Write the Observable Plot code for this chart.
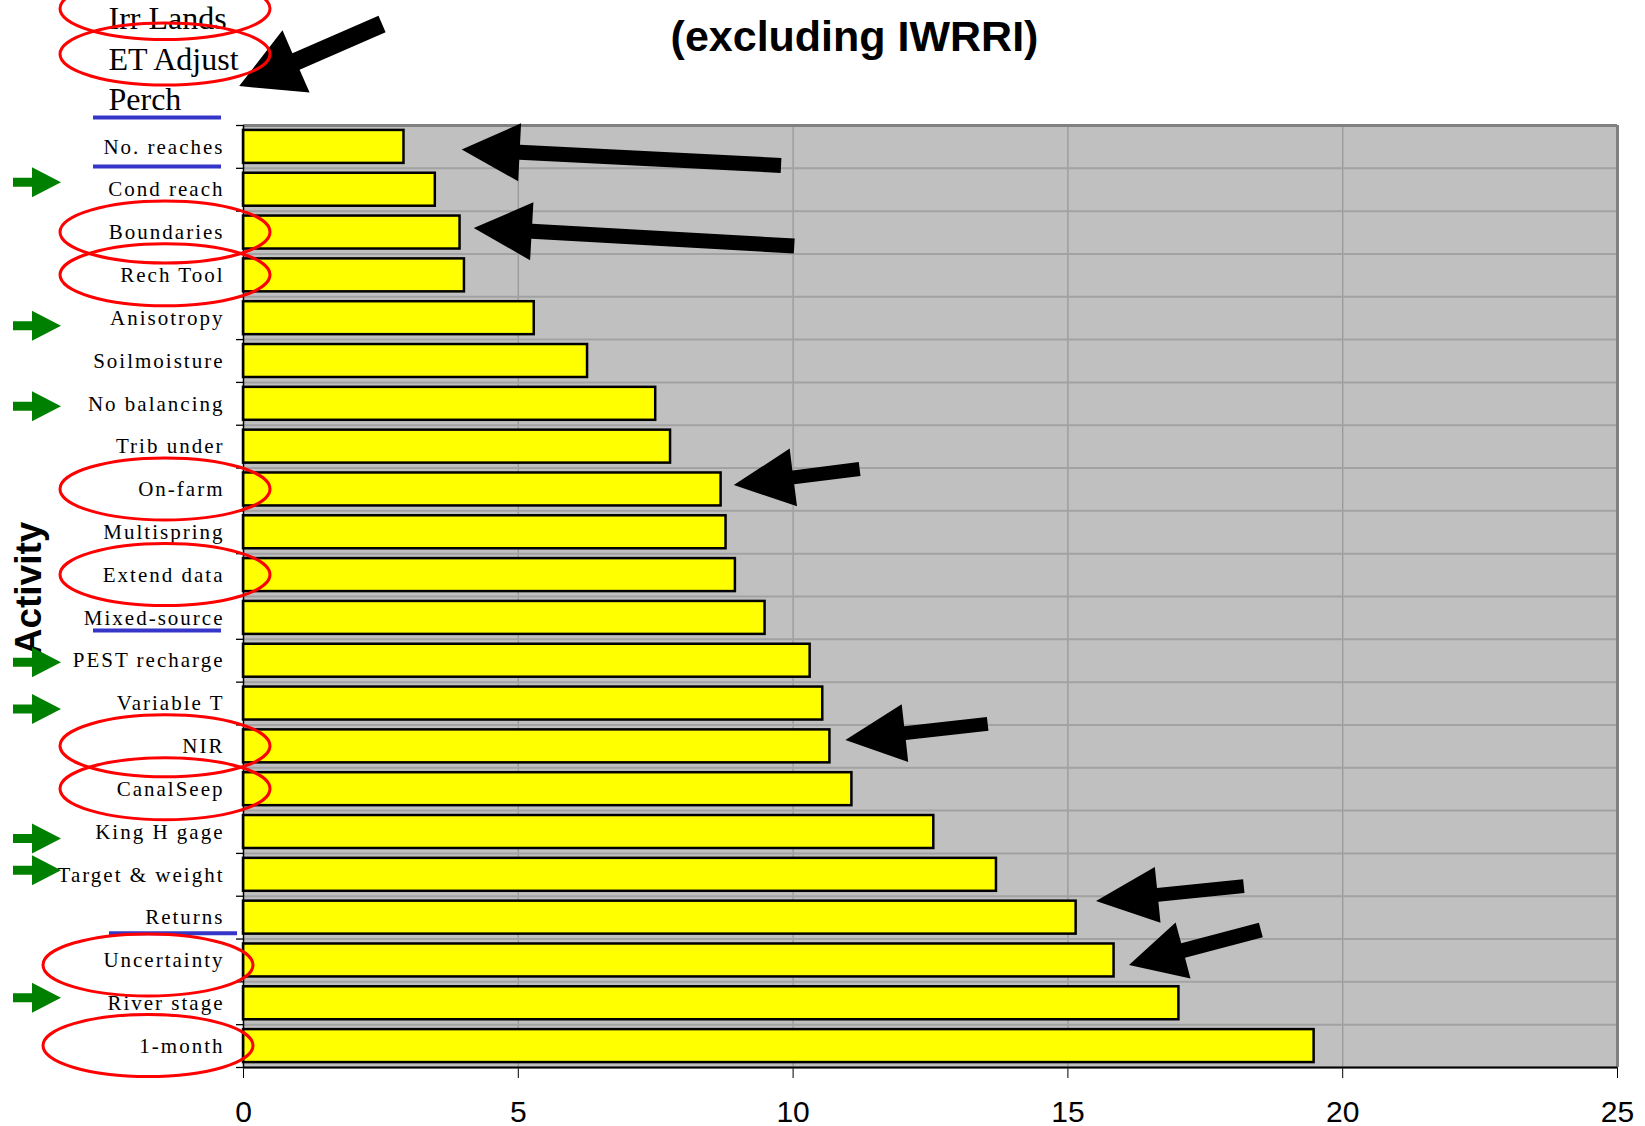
<!DOCTYPE html>
<html>
<head>
<meta charset="utf-8">
<script src="https://cdn.jsdelivr.net/npm/d3@7"></script>
<script src="https://cdn.jsdelivr.net/npm/@observablehq/plot@0.6"></script>
<style>
  html, body { margin: 0; padding: 0; background: #ffffff; }
  #chart svg { display: block; }
  #chart [aria-label^="y-axis"] text {
    font-family: "Liberation Serif", "Times New Roman", serif;
    font-size: 21px; letter-spacing: 2px; fill: #000;
  }
  #chart [aria-label^="x-axis"] text {
    font-family: "Liberation Sans", Arial, sans-serif;
    font-size: 30px; fill: #000;
  }
</style>
</head>
<body>
<div id="chart"></div>
<script>
// ---------------- data ----------------
const activities = [
  "No. reaches", "Cond reach", "Boundaries", "Rech Tool", "Anisotropy",
  "Soilmoisture", "No balancing", "Trib under", "On-farm", "Multispring",
  "Extend data", "Mixed-source", "PEST recharge", "Variable T", "NIR",
  "CanalSeep", "King H gage", "Target & weight", "Returns", "Uncertainty",
  "River stage", "1-month"
];
const values = [
  2.92, 3.49, 3.94, 4.02, 5.29,
  6.26, 7.50, 7.77, 8.69, 8.78,
  8.95, 9.49, 10.31, 10.54, 10.67,
  11.07, 12.56, 13.70, 15.15, 15.84,
  17.02, 19.48
];
const xTicks = [0, 5, 10, 15, 20, 25];
const overflowLabels = ["Irr Lands", "ET Adjust", "Perch"];   // listed above the plot, top to bottom
const titleText = "(excluding IWRRI)";
const yTitle = "Activity";

// annotation groups
const circled = ["Irr Lands", "ET Adjust", "Boundaries", "Rech Tool", "On-farm",
                 "Extend data", "NIR", "CanalSeep", "Uncertainty", "1-month"];
const greenFlagged = ["Cond reach", "Anisotropy", "No balancing", "PEST recharge",
                      "Variable T", "King H gage", "Target & weight", "River stage"];
const underlined = ["Perch", "No. reaches", "Mixed-source", "Returns"];
const pointedAt = ["ET Adjust", "No. reaches", "Boundaries", "On-farm", "NIR", "Returns", "Uncertainty"];

const table = activities.map((a, i) => ({activity: a, value: values[i]}));

// ---------------- layout ----------------
const W = 1645, H = 1126;
const mL = 243, mR = 28, mT = 125, mB = 59;
const innerH = H - mT - mB;
const step = innerH / activities.length;
const ppu = (W - mL - mR) / (xTicks[xTicks.length - 1] - xTicks[0]);
const tickLen = 7 / ppu;
const overflowGap = 40.5;                       // line spacing of the labels above the plot
const overflowBase = -step / 2 - 4;              // offset of the lowest one from the plot top
const overflowDy = k => overflowBase - (overflowLabels.length - 1 - k) * overflowGap;

const chart = Plot.plot({
  width: W, height: H,
  marginLeft: mL, marginRight: mR, marginTop: mT, marginBottom: mB,
  style: {background: "#ffffff", color: "#000", fontFamily: "Liberation Sans, Arial, sans-serif", overflow: "visible"},
  x: {domain: [xTicks[0], xTicks[xTicks.length - 1]], ticks: xTicks, tickSize: 11, tickPadding: 22, label: null},
  y: {type: "band", domain: activities, paddingInner: 0.23, paddingOuter: 0.115, round: false,
      tickSize: 0, tickPadding: 19, label: null},
  marks: [
    Plot.frame({fill: "#c0c0c0", stroke: null}),
    Plot.ruleX(xTicks.slice(1, -1), {stroke: "#999999", strokeWidth: 1.3}),
    Plot.ruleY(activities, {y: d => d, dy: step / 2, stroke: "#a2a2a2", strokeWidth: 2}),
    Plot.ruleY([activities[0]], {y: d => d, dy: -step / 2, stroke: "#808080", strokeWidth: 3}),
    Plot.ruleX([xTicks[xTicks.length - 1]], {stroke: "#808080", strokeWidth: 3}),
    Plot.barX(table, {x: "value", y: "activity", fill: "#ffff00", stroke: "#000", strokeWidth: 2.5}),
    Plot.ruleX([xTicks[0]], {stroke: "#000", strokeWidth: 1.5}),
    Plot.ruleY([activities[activities.length - 1]], {y: d => d, dy: step / 2, stroke: "#000", strokeWidth: 2}),
    Plot.ruleY(activities, {y: d => d, dy: step / 2, x1: xTicks[0] - tickLen, x2: xTicks[0], stroke: "#000", strokeWidth: 1.3}),
    Plot.ruleY([activities[0]], {y: d => d, dy: -step / 2, x1: xTicks[0] - tickLen, x2: xTicks[0], stroke: "#000", strokeWidth: 1.3}),
    Plot.text([titleText], {text: d => d, frameAnchor: "top-left", dx: 854 - mL, dy: 37 - mT,
      textAnchor: "middle", lineAnchor: "middle", fontSize: 43, fontWeight: "bold",
      fontFamily: "Liberation Sans, Arial, sans-serif"}),
    Plot.text([yTitle], {text: d => d, frameAnchor: "top-left", dx: 29 - mL, dy: 588 - mT, rotate: -90,
      textAnchor: "middle", lineAnchor: "middle", fontSize: 37, fontWeight: "bold",
      fontFamily: "Liberation Sans, Arial, sans-serif"}),
    ...overflowLabels.map((lab, k) => Plot.text([lab], {text: d => d, frameAnchor: "top-left",
      dx: 108 - mL, dy: overflowDy(k),
      textAnchor: "start", lineAnchor: "middle", fontSize: 32,
      fontFamily: "Liberation Serif, Times New Roman, serif"}))
  ]
});
document.getElementById("chart").appendChild(chart);

// ---------------- annotations, placed through the plot's scales ----------------
const xs = chart.scale("x");
const ys = chart.scale("y");
const X = v => xs.apply(v);
function Yc(cat) {
  const k = overflowLabels.indexOf(cat);
  if (k >= 0) return mT + overflowDy(k);
  return ys.apply(cat) + ys.bandwidth / 2;
}
const svg = d3.select(chart);
const ann = svg.append("g").attr("aria-label", "annotations");

function arrowPath(x1, y1, x2, y2, shaft, headL, headW) {
  const dx = x2 - x1, dy = y2 - y1, len = Math.hypot(dx, dy);
  const ux = dx / len, uy = dy / len, nx = -uy, ny = ux;
  const bx = x2 - ux * headL, by = y2 - uy * headL;
  const p = [
    [x1 + nx * shaft / 2, y1 + ny * shaft / 2],
    [bx + nx * shaft / 2, by + ny * shaft / 2],
    [bx + nx * headW, by + ny * headW],
    [x2, y2],
    [bx - nx * headW, by - ny * headW],
    [bx - nx * shaft / 2, by - ny * shaft / 2],
    [x1 - nx * shaft / 2, y1 - ny * shaft / 2]
  ];
  return "M" + p.map(q => q[0].toFixed(1) + "," + q[1].toFixed(1)).join("L") + "Z";
}

// blue underlines
const underlineSpec = {"Perch": [93, 221, 18], "No. reaches": [93, 221, 20],
                       "Mixed-source": [93, 221, 13], "Returns": [109, 237, 16]};
underlined.forEach(c => {
  const [a, b, off] = underlineSpec[c];
  ann.append("line").attr("x1", a).attr("x2", b)
    .attr("y1", Yc(c) + off).attr("y2", Yc(c) + off)
    .attr("stroke", "#3535c8").attr("stroke-width", 4);
});

// black arrows: [tip x value, tail x value, tip dy, tail dy, shaft, head length, head half-width]
const arrowSpec = {
  "ET Adjust":   [-0.07, 2.53, 27, -35, 18, 62, 34],
  "No. reaches": [3.98, 9.79, 3, 19, 15, 58, 29],
  "Boundaries":  [4.20, 10.03, -4, 14, 15, 58, 29],
  "On-farm":     [8.93, 11.22, -4, -20, 14, 60, 29],
  "NIR":         [10.96, 13.55, -6, -22, 14, 60, 29],
  "Returns":     [15.52, 18.21, -16, -31, 14, 62, 28],
  "Uncertainty": [16.12, 18.52, 5, -30, 15, 56, 29]
};
pointedAt.forEach(c => {
  const [tx, sx, tdy, sdy, sh, hl, hw] = arrowSpec[c];
  ann.append("path")
    .attr("d", arrowPath(X(sx), Yc(c) + sdy, X(tx), Yc(c) + tdy, sh, hl, hw))
    .attr("fill", "#000");
});

// green arrows in the left margin (small vertical offsets as hand-placed in the original)
const greenShift = {"Cond reach": -7, "Anisotropy": 8, "No balancing": 3, "PEST recharge": 2,
                    "Variable T": 6, "King H gage": 7, "Target & weight": -4, "River stage": -5};
greenFlagged.forEach(c => {
  const cy = Yc(c) + (greenShift[c] || 0);
  ann.append("path")
    .attr("d", `M13,${cy - 4.5}L32,${cy - 4.5}L32,${cy - 15}L61,${cy}L32,${cy + 15}L32,${cy + 4.5}L13,${cy + 4.5}Z`)
    .attr("fill", "#008000");
});

// red ellipses round circled labels
const ellipseShift = {"Irr Lands": [165, -10], "ET Adjust": [165, -5], "Uncertainty": [148, 5], "1-month": [148, 0]};
circled.forEach(c => {
  const [cx, off] = ellipseShift[c] || [165, 0];
  ann.append("ellipse").attr("cx", cx).attr("cy", Yc(c) + off)
    .attr("rx", 105).attr("ry", 31)
    .attr("fill", "none").attr("stroke", "#ff0000").attr("stroke-width", 3);
});
</script>
</body>
</html>
